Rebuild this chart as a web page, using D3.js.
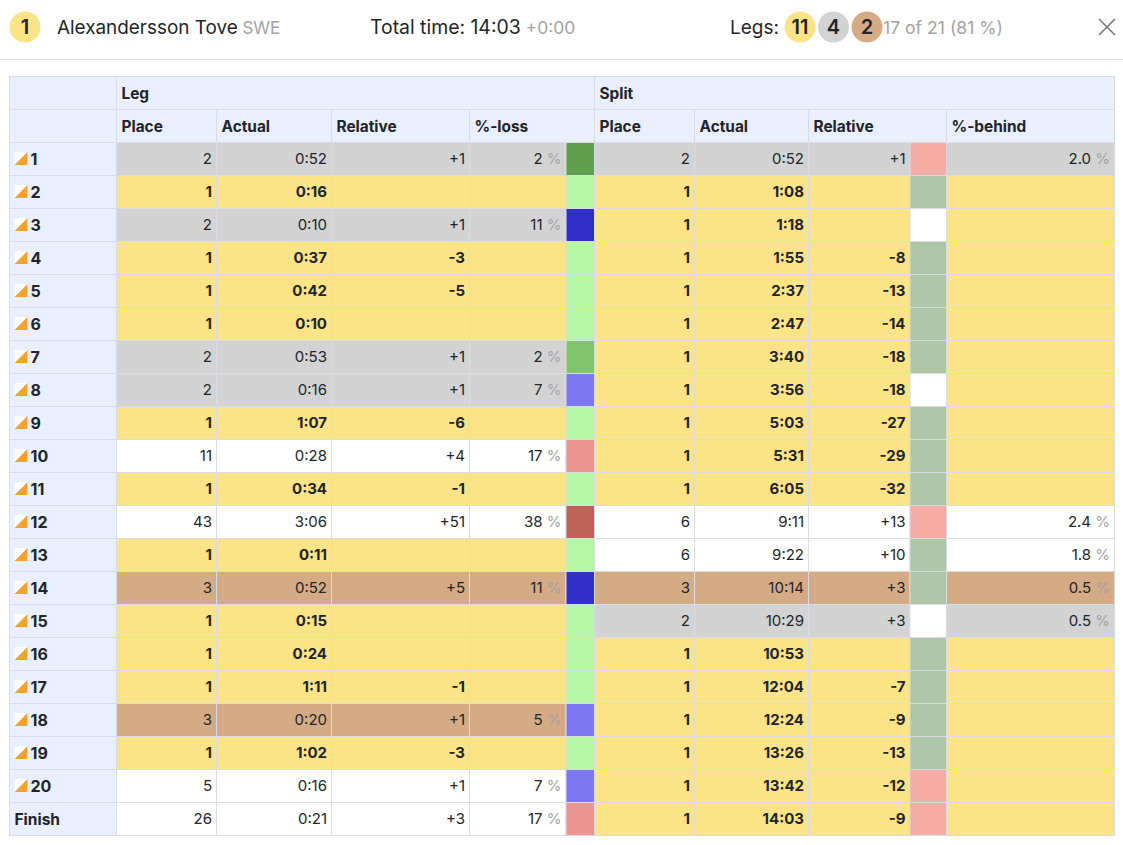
<!DOCTYPE html>
<html>
<head>
<meta charset="utf-8">
<script src="https://cdn.jsdelivr.net/npm/d3@7"></script>
<style>
html, body { margin: 0; padding: 0; background: #fff; }
svg { display: block; font-family: Inter, "Noto Sans", sans-serif; }
text { white-space: pre; fill: #212529; }
</style>
</head>
<body>
<div id="chart-area"></div>
<script>
var width = 1123;
var height = 845;

var rows = ["1","2","3","4","5","6","7","8","9","10","11","12","13","14","15","16","17","18","19","20","Finish"];

var legPlace = [2,1,2,1,1,1,2,2,1,11,1,43,1,3,1,1,1,3,1,5,26];
var legActual = ["0:52","0:16","0:10","0:37","0:42","0:10","0:53","0:16","1:07","0:28","0:34","3:06","0:11","0:52","0:15","0:24","1:11","0:20","1:02","0:16","0:21"];
var legRelative = ["+1","","+1","-3","-5","","+1","+1","-6","+4","-1","+51","","+5","","","-1","+1","-3","+1","+3"];
var legLoss = ["2","","11","","","","2","7","","17","","38","","11","","","","5","","7","17"];
var legLevel = ["best","ok","vbad","ok","ok","ok","good","bad","ok","worse","ok","worst","ok","vbad","ok","ok","ok","bad","ok","bad","worse"];

var splitPlace = [2,1,1,1,1,1,1,1,1,1,1,6,6,3,2,1,1,1,1,1,1];
var splitActual = ["0:52","1:08","1:18","1:55","2:37","2:47","3:40","3:56","5:03","5:31","6:05","9:11","9:22","10:14","10:29","10:53","12:04","12:24","13:26","13:42","14:03"];
var splitRelative = ["+1","","","-8","-13","-14","-18","-18","-27","-29","-32","+13","+10","+3","+3","","-7","-9","-13","-12","-9"];
var splitBehind = ["2.0","","","","","","","","","","","2.4","1.8","0.5","0.5","","","","","",""];
var splitTrend = ["lost","gain","same","gain","gain","gain","gain","same","gain","gain","gain","lost","gain","gain","same","gain","gain","gain","gain","lost","lost"];

var legHeads = ["Place","Actual","Relative","%-loss"];
var splitHeads = ["Place","Actual","Relative","%-behind"];
var medals = [11,4,2];

var columns = ["label","lp","la","lr","ll","lsw","sp","sa","sr","ssw","sb","end"];
var x = d3.scaleOrdinal().domain(columns)
    .range([9.5,116.5,216.5,331.5,469.5,566,594.5,694.5,808.5,910,946.5,1114.5]);
var y = d3.scaleBand().domain(rows).range([142.5,835.5]);

var placeColor = d3.scaleOrdinal().domain([1,2,3]).range(["#fbe388","#d3d3d3","#d4ab84"]).unknown("#ffffff");
var legColor = d3.scaleOrdinal()
    .domain(["best","good","ok","bad","vbad","worse","worst"])
    .range(["#5f9f4b","#80c46c","#b6f7a6","#7b78f2","#3030c8","#ec9490","#bf6358"]);
var trendColor = d3.scaleOrdinal()
    .domain(["lost","gain","same"])
    .range(["#f5aca4","#adc6a6","#ffffff"]);

var grid = "#d9dce4";
var headBg = "#e9effc";
var grey = "#a3a3a3";

var svg = d3.select("#chart-area").append("svg")
    .attr("width", width)
    .attr("height", height);

// top bar
svg.append("line").attr("x1", 0).attr("x2", width).attr("y1", 59.5).attr("y2", 59.5).attr("stroke", "#e2e2e2");

function badge(cx, txt, fill) {
    svg.append("circle").attr("cx", cx).attr("cy", 27).attr("r", 15.5).attr("fill", fill);
    svg.append("text").attr("x", cx).attr("y", 34).attr("text-anchor", "middle")
        .attr("font-size", 20).attr("font-weight", 600).text(txt);
}
function headText(xPos, parts) {
    var t = svg.append("text").attr("x", xPos).attr("y", 34);
    parts.forEach((p) => {
        t.append("tspan").attr("font-size", p[2]).style("fill", p[1] || "#212529").text(p[0]);
    });
}
badge(25, "1", placeColor(1));
headText(57, [["Alexandersson Tove", null, 18.9], [" SWE", grey, 17]]);
headText(370, [["Total time: 14:03", null, 19.4], [" +0:00", grey, 17.5]]);
headText(730, [["Legs:", null, 19]]);
medals.forEach((m, i) => {
    badge(800 + i * 33.5, m, placeColor(i + 1));
});
headText(883, [["17 of 21 (81 %)", grey, 17.6]]);
[[1099,19,1115,35],[1115,19,1099,35]].forEach((p) => {
    svg.append("line").attr("x1", p[0]).attr("y1", p[1]).attr("x2", p[2]).attr("y2", p[3])
        .attr("stroke", "#777").attr("stroke-width", 1.6);
});

function cell(x0, x1, y0, h, fill) {
    svg.append("rect").attr("x", x0).attr("y", y0).attr("width", x1 - x0).attr("height", h)
        .attr("fill", fill).attr("stroke", grid).attr("stroke-width", 1);
}
function head(xPos, yPos, txt) {
    svg.append("text").attr("x", xPos + 5).attr("y", yPos).attr("font-size", 15.4)
        .attr("font-weight", 700).text(txt);
}

// header rows
var headTop = 76.5;
var headH = y.bandwidth();
cell(x("label"), x("lp"), headTop, headH, headBg);
cell(x("lp"), x("sp"), headTop, headH, headBg);
cell(x("sp"), x("end"), headTop, headH, headBg);
head(x("lp"), headTop + 22, "Leg");
head(x("sp"), headTop + 22, "Split");
var headCols = [["label","lp",""],["lp","la",legHeads[0]],["la","lr",legHeads[1]],["lr","ll",legHeads[2]],["ll","sp",legHeads[3]],
    ["sp","sa",splitHeads[0]],["sa","sr",splitHeads[1]],["sr","sb",splitHeads[2]],["sb","end",splitHeads[3]]];
headCols.forEach((c) => {
    cell(x(c[0]), x(c[1]), headTop + headH, headH, headBg);
    head(x(c[0]), headTop + headH + 22, c[2]);
});

function valueText(edge, yPos, txt, bold, pct) {
    if (txt === "") return;
    var t = svg.append("text").attr("x", x(edge) - 4.5).attr("y", yPos)
        .attr("text-anchor", "end").attr("font-size", 15)
        .attr("font-weight", bold ? 700 : 400).text(txt);
    if (pct) t.append("tspan").style("fill", grey).text(" %");
}

rows.forEach((r, i) => {
    var top = y(r);
    var h = y.bandwidth();
    var base = top + 21;
    var legFill = placeColor(legPlace[i]);
    var splitFill = placeColor(splitPlace[i]);
    var legBold = legPlace[i] === 1;
    var splitBold = splitPlace[i] === 1;

    cell(x("label"), x("lp"), top, h, headBg);
    if (r === "Finish") {
        svg.append("text").attr("x", x("label") + 5).attr("y", base + 1).attr("font-size", 15.5)
            .attr("font-weight", 700).text(r);
    } else {
        var mx = x("label") + 5;
        var my = top + 9.5;
        svg.append("rect").attr("x", mx).attr("y", my).attr("width", 13).attr("height", 13).attr("fill", "#fff");
        svg.append("path").attr("d", d3.line()([[mx, my + 13], [mx + 13, my], [mx + 13, my + 13]]) + "Z").attr("fill", "#f2a22f");
        svg.append("text").attr("x", mx + 16).attr("y", base + 1.5).attr("font-size", 16)
            .attr("font-weight", 700).text(r);
    }

    [["lp","la"],["la","lr"],["lr","ll"],["ll","lsw"]].forEach((c) => cell(x(c[0]), x(c[1]), top, h, legFill));
    cell(x("lsw"), x("sp"), top, h, legColor(legLevel[i]));
    [["sp","sa"],["sa","sr"],["sr","ssw"]].forEach((c) => cell(x(c[0]), x(c[1]), top, h, splitFill));
    cell(x("ssw"), x("sb"), top, h, trendColor(splitTrend[i]));
    cell(x("sb"), x("end"), top, h, splitFill);

    valueText("la", base, legPlace[i], legBold);
    valueText("lr", base, legActual[i], legBold);
    valueText("ll", base, legRelative[i], legBold);
    valueText("lsw", base, legLoss[i], false, true);
    valueText("sa", base, splitPlace[i], splitBold);
    valueText("sr", base, splitActual[i], splitBold);
    valueText("ssw", base, splitRelative[i], splitBold);
    valueText("end", base, splitBehind[i], false, true);
});
</script>
</body>
</html>
